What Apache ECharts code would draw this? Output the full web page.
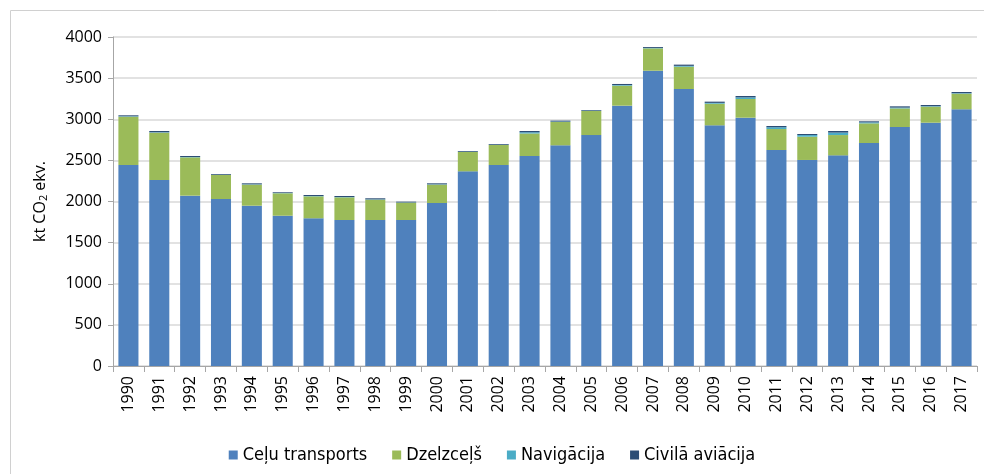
<!DOCTYPE html>
<html>
<head>
<meta charset="utf-8">
<script src="https://cdn.jsdelivr.net/npm/echarts@6/dist/echarts.min.js"></script>
<style>
  html, body { margin: 0; padding: 0; background: #fff; }
  #chart { width: 984px; height: 474px; }
</style>
</head>
<body>
<div id="chart"></div>
<script>
// gadi
const years = ['1990', '1991', '1992', '1993', '1994', '1995', '1996', '1997', '1998', '1999',
  '2000', '2001', '2002', '2003', '2004', '2005', '2006', '2007', '2008', '2009',
  '2010', '2011', '2012', '2013', '2014', '2015', '2016', '2017']

// emisijas, kt CO2 ekv.
const celuTransports = [2444, 2261, 2071, 2030, 1949, 1827, 1796, 1775, 1775, 1775,
  1982, 2367, 2444, 2553, 2683, 2808, 3165, 3590, 3368, 2926,
  3019, 2626, 2505, 2561, 2711, 2906, 2958, 3121]
const dzelzcels = [587, 576, 466, 292, 256, 273, 267, 276, 247, 211,
  223, 235, 243, 274, 284, 292, 243, 272, 271, 263,
  227, 255, 283, 247, 239, 226, 195, 190]
const navigacija = [5, 5, 4, 3, 4, 3, 4, 4, 4, 3,
  4, 3, 3, 15, 5, 4, 8, 5, 10, 10,
  20, 22, 20, 30, 12, 10, 6, 6]
const civilaAviacija = [12, 15, 12, 9, 12, 9, 12, 12, 13, 9,
  12, 9, 9, 15, 11, 8, 13, 11, 15, 15,
  17, 15, 13, 19, 13, 15, 14, 14]

const yTicks = { min: 0, max: 4000, interval: 500 }

const chart = echarts.init(document.getElementById('chart'))

const fontFamily = '"Open Sans", "Noto Sans", sans-serif'
const legendFont = '"DejaVu Sans Condensed", "Noto Sans", sans-serif'

const mkSeries = (name, data, color) => ({
  name,
  type: 'bar',
  stack: 'total',
  barWidth: '65%',
  data,
  itemStyle: { color },
  emphasis: { disabled: true }
})

chart.setOption({
  animation: false,
  graphic: [
    {
      type: 'rect',
      shape: { x: 10.5, y: 10.5, width: 1000, height: 600 },
      style: { fill: 'none', stroke: '#d0d0d0', lineWidth: 1 },
      silent: true
    }
  ],
  grid: {
    left: 113,
    right: 7,
    top: 37,
    bottom: 108
  },
  legend: {
    bottom: 5,
    left: 'center',
    itemWidth: 9,
    itemHeight: 9,
    itemGap: 25,
    icon: 'rect',
    textStyle: { fontFamily: legendFont, fontSize: 18, color: '#000' },
    data: ['Ceļu transports', 'Dzelzceļš', 'Navigācija', 'Civilā aviācija']
  },
  xAxis: {
    type: 'category',
    data: years,
    axisLine: { lineStyle: { color: '#a6a6a6' } },
    axisTick: { show: true, length: 6, alignWithLabel: false, lineStyle: { color: '#a6a6a6' } },
    axisLabel: {
      rotate: 90,
      interval: 0,
      margin: 10,
      fontFamily,
      fontSize: 16,
      color: '#000'
    }
  },
  yAxis: {
    type: 'value',
    min: yTicks.min,
    max: yTicks.max,
    interval: yTicks.interval,
    name: '{a|kt CO}{s|2}{a| ekv.}',
    nameLocation: 'middle',
    nameRotate: 90,
    nameGap: 64,
    nameTextStyle: {
      rich: {
        a: { fontFamily, fontSize: 16, color: '#000' },
        s: { fontFamily, fontSize: 11, color: '#000', verticalAlign: 'bottom', padding: [6, 0, 0, 0] }
      }
    },
    axisLine: { show: true, lineStyle: { color: '#a6a6a6' } },
    axisTick: { show: true, length: 5, lineStyle: { color: '#a6a6a6' } },
    axisLabel: {
      fontFamily,
      fontSize: 16,
      color: '#000',
      margin: 11,
      formatter: v => String(v)
    },
    splitLine: { lineStyle: { color: '#d9d9d9', width: 1.5 } }
  },
  series: [
    mkSeries('Ceļu transports', celuTransports, '#4f81bd'),
    mkSeries('Dzelzceļš', dzelzcels, '#9bbb59'),
    mkSeries('Navigācija', navigacija, '#4bacc6'),
    mkSeries('Civilā aviācija', civilaAviacija, '#2c4d75')
  ]
})
</script>
</body>
</html>
